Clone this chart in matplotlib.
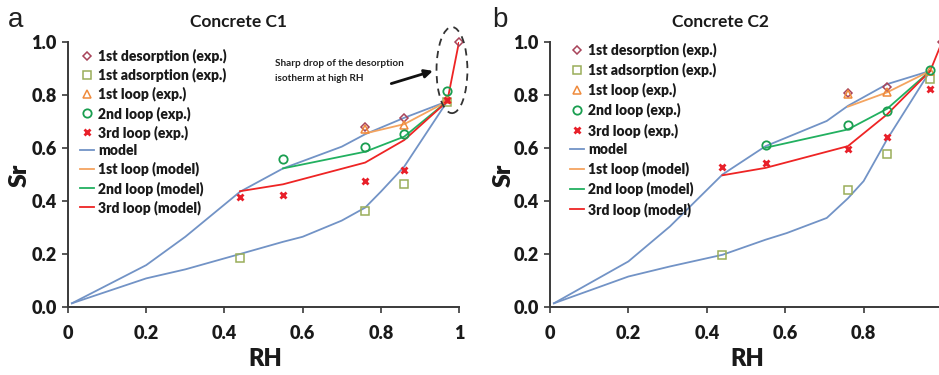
import matplotlib
matplotlib.use("Agg")
import matplotlib.pyplot as plt
from matplotlib.patches import Ellipse
from matplotlib.lines import Line2D

FAM = ['Lato', 'DejaVu Sans']
plt.rcParams['font.family'] = FAM

# ---------------- data: Concrete C1 ----------------
rh_des_model_c1 = [0.01, 0.2, 0.3, 0.44, 0.55, 0.7, 0.76, 0.86, 0.97]
sr_des_model_c1 = [0.014, 0.158, 0.265, 0.435, 0.523, 0.605, 0.652, 0.714, 0.776]
rh_ads_model_c1 = [0.01, 0.2, 0.3, 0.44, 0.55, 0.6, 0.7, 0.76, 0.8, 0.86, 0.97]
sr_ads_model_c1 = [0.014, 0.108, 0.142, 0.2, 0.246, 0.265, 0.326, 0.375, 0.435, 0.53, 0.776]
rh_loop1_model_c1 = [0.76, 0.86, 0.97]
sr_loop1_model_c1 = [0.655, 0.69, 0.776]
rh_loop2_model_c1 = [0.55, 0.76, 0.86, 0.97]
sr_loop2_model_c1 = [0.523, 0.586, 0.643, 0.776]
rh_loop3_model_c1 = [0.44, 0.55, 0.76, 0.86, 0.97, 1.0]
sr_loop3_model_c1 = [0.437, 0.463, 0.545, 0.63, 0.776, 1.0]

rh_des_exp_c1 = [0.76, 0.86, 1.0]
sr_des_exp_c1 = [0.678, 0.714, 1.0]
rh_ads_exp_c1 = [0.44, 0.76, 0.86, 0.97]
sr_ads_exp_c1 = [0.185, 0.363, 0.464, 0.775]
rh_loop1_exp_c1 = [0.76, 0.86, 0.97]
sr_loop1_exp_c1 = [0.672, 0.687, 0.785]
rh_loop2_exp_c1 = [0.55, 0.76, 0.86, 0.97]
sr_loop2_exp_c1 = [0.558, 0.603, 0.652, 0.815]
rh_loop3_exp_c1 = [0.44, 0.55, 0.76, 0.86, 0.97]
sr_loop3_exp_c1 = [0.416, 0.423, 0.477, 0.517, 0.78]

# ---------------- data: Concrete C2 ----------------
rh_des_model_c2 = [0.01, 0.2, 0.306, 0.44, 0.55, 0.706, 0.76, 0.86, 0.97]
sr_des_model_c2 = [0.014, 0.172, 0.304, 0.5, 0.607, 0.702, 0.759, 0.841, 0.891]
rh_ads_model_c2 = [0.01, 0.2, 0.306, 0.44, 0.55, 0.604, 0.706, 0.76, 0.8, 0.86, 0.97]
sr_ads_model_c2 = [0.014, 0.115, 0.153, 0.197, 0.254, 0.279, 0.336, 0.41, 0.475, 0.633, 0.891]
rh_loop1_model_c2 = [0.76, 0.86, 0.97]
sr_loop1_model_c2 = [0.756, 0.81, 0.891]
rh_loop2_model_c2 = [0.55, 0.76, 0.86, 0.97]
sr_loop2_model_c2 = [0.601, 0.67, 0.748, 0.891]
rh_loop3_model_c2 = [0.44, 0.55, 0.76, 0.86, 0.97, 1.0]
sr_loop3_model_c2 = [0.497, 0.525, 0.607, 0.727, 0.891, 1.0]

rh_des_exp_c2 = [0.76, 0.86, 1.0]
sr_des_exp_c2 = [0.806, 0.832, 1.0]
rh_ads_exp_c2 = [0.44, 0.76, 0.86, 0.97]
sr_ads_exp_c2 = [0.197, 0.441, 0.576, 0.86]
rh_loop1_exp_c2 = [0.76, 0.86, 0.97]
sr_loop1_exp_c2 = [0.803, 0.813, 0.89]
rh_loop2_exp_c2 = [0.55, 0.76, 0.86, 0.97]
sr_loop2_exp_c2 = [0.61, 0.687, 0.74, 0.895]
rh_loop3_exp_c2 = [0.44, 0.55, 0.76, 0.86, 0.97]
sr_loop3_exp_c2 = [0.528, 0.542, 0.595, 0.641, 0.822]

legend_labels = ['1st desorption (exp.)', '1st adsorption (exp.)', '1st loop (exp.)',
                 '2nd loop (exp.)', '3rd loop (exp.)', 'model', '1st loop (model)',
                 '2nd loop (model)', '3rd loop (model)']
yticks = [0.0, 0.2, 0.4, 0.6, 0.8, 1.0]
ytick_labels = ['0.0', '0.2', '0.4', '0.6', '0.8', '1.0']
xticks = [0, 0.2, 0.4, 0.6, 0.8, 1.0]
xtick_labels = ['0', '0.2', '0.4', '0.6', '0.8', '1']

# ---------------- styles ----------------
C_BLUE = '#7293c6'
C_ORANGE = '#f4a460'
C_GREEN = '#22b060'
C_RED = '#ee2424'
M_DES = '#a8445a'
M_ADS = '#9aae5a'
M_TRI = '#ef8a3c'
M_CIR = '#1a9e50'
M_X = '#e8202a'

fig = plt.figure(figsize=(9.39, 3.75), dpi=100)
W, H = 939.0, 375.0


def panel(left_px, right_px, xmax, d, title, title_x, letter, letter_x, sr_x, rh_x, leg_xy, lspace):
    ax = fig.add_axes([left_px / W, (H - 307) / H, (right_px - left_px) / W, 265 / H])
    lw = 1.3
    ax.plot(d['rh_des_m'], d['sr_des_m'], color=C_BLUE, lw=lw, zorder=2)
    ax.plot(d['rh_ads_m'], d['sr_ads_m'], color=C_BLUE, lw=lw, zorder=2)
    ax.plot(d['rh_l1_m'], d['sr_l1_m'], color=C_ORANGE, lw=lw, zorder=3)
    ax.plot(d['rh_l2_m'], d['sr_l2_m'], color=C_GREEN, lw=lw, zorder=3)
    ax.plot(d['rh_l3_m'], d['sr_l3_m'], color=C_RED, lw=lw, zorder=3)
    ms = 6
    ax.plot(d['rh_des_e'], d['sr_des_e'], ls='none', marker='D', ms=4.5, mfc='none', mec=M_DES, mew=1.1, zorder=4, clip_on=False)
    ax.plot(d['rh_ads_e'], d['sr_ads_e'], ls='none', marker='s', ms=ms, mfc='none', mec=M_ADS, mew=1.1, zorder=4)
    ax.plot(d['rh_l1_e'], d['sr_l1_e'], ls='none', marker='^', ms=ms, mfc='none', mec=M_TRI, mew=1.1, zorder=4)
    ax.plot(d['rh_l2_e'], d['sr_l2_e'], ls='none', marker='o', ms=ms, mfc='none', mec=M_CIR, mew=1.3, zorder=4)
    ax.plot(d['rh_l3_e'], d['sr_l3_e'], ls='none', marker='x', ms=5, mec=M_X, mew=2.0, zorder=5)

    ax.set_xlim(0, xmax)
    ax.set_ylim(0, 1.0)
    ax.set_yticks(yticks)
    ax.set_yticklabels(ytick_labels)
    xt = [t for t in xticks if t <= xmax + 1e-9]
    ax.set_xticks(xt)
    ax.set_xticklabels(xtick_labels[:len(xt)])
    for s in ['top', 'right']:
        ax.spines[s].set_visible(False)
    for s in ['left', 'bottom']:
        ax.spines[s].set_color('#3a3a3a')
        ax.spines[s].set_linewidth(1.4)
    ax.tick_params(direction='out', length=4, width=1.2, colors='#3a3a3a',
                   labelsize=13, labelcolor='#1a1a1a')
    for lab in ax.get_xticklabels() + ax.get_yticklabels():
        lab.set_fontweight('heavy')
    ax.tick_params(axis='x', pad=9)
    ax.tick_params(axis='y', pad=4)

    handles = [
        Line2D([], [], ls='none', marker='D', ms=4.5, mfc='none', mec=M_DES, mew=1.1),
        Line2D([], [], ls='none', marker='s', ms=6, mfc='none', mec=M_ADS, mew=1.1),
        Line2D([], [], ls='none', marker='^', ms=6, mfc='none', mec=M_TRI, mew=1.1),
        Line2D([], [], ls='none', marker='o', ms=6, mfc='none', mec=M_CIR, mew=1.3),
        Line2D([], [], ls='none', marker='x', ms=5, mec=M_X, mew=2.0),
        Line2D([], [], color=C_BLUE, lw=1.3),
        Line2D([], [], color=C_ORANGE, lw=1.3),
        Line2D([], [], color=C_GREEN, lw=1.3),
        Line2D([], [], color=C_RED, lw=1.3),
    ]
    leg = ax.legend(handles, legend_labels, loc='upper left',
                    bbox_to_anchor=(leg_xy[0] / W, 1 - leg_xy[1] / H),
                    bbox_transform=fig.transFigure, frameon=False,
                    borderpad=0, borderaxespad=0, handlelength=1.0,
                    handletextpad=0.3, labelspacing=lspace,
                    prop={'family': FAM, 'weight': 'heavy', 'size': 10})
    for t in leg.get_texts():
        t.set_color('#1a1a1a')

    fig.text(title_x / W, 1 - 22 / H, title, ha='center', va='center',
             fontsize=12.5, fontweight='bold', color='#1a1a1a')
    fig.text(letter_x / W, 1 - 20 / H, letter, ha='center', va='center',
             fontsize=20, color='#222222', family=['Liberation Sans', 'DejaVu Sans'])
    fig.text(sr_x / W, 1 - 175 / H, 'Sr', ha='center', va='center', rotation=90,
             fontsize=18, fontweight='heavy', color='#1a1a1a')
    fig.text(rh_x / W, 1 - 359 / H, 'RH', ha='center', va='center',
             fontsize=17, fontweight='heavy', color='#1a1a1a')
    return ax


d1 = dict(rh_des_m=rh_des_model_c1, sr_des_m=sr_des_model_c1,
          rh_ads_m=rh_ads_model_c1, sr_ads_m=sr_ads_model_c1,
          rh_l1_m=rh_loop1_model_c1, sr_l1_m=sr_loop1_model_c1,
          rh_l2_m=rh_loop2_model_c1, sr_l2_m=sr_loop2_model_c1,
          rh_l3_m=rh_loop3_model_c1, sr_l3_m=sr_loop3_model_c1,
          rh_des_e=rh_des_exp_c1, sr_des_e=sr_des_exp_c1,
          rh_ads_e=rh_ads_exp_c1, sr_ads_e=sr_ads_exp_c1,
          rh_l1_e=rh_loop1_exp_c1, sr_l1_e=sr_loop1_exp_c1,
          rh_l2_e=rh_loop2_exp_c1, sr_l2_e=sr_loop2_exp_c1,
          rh_l3_e=rh_loop3_exp_c1, sr_l3_e=sr_loop3_exp_c1)
d2 = dict(rh_des_m=rh_des_model_c2, sr_des_m=sr_des_model_c2,
          rh_ads_m=rh_ads_model_c2, sr_ads_m=sr_ads_model_c2,
          rh_l1_m=rh_loop1_model_c2, sr_l1_m=sr_loop1_model_c2,
          rh_l2_m=rh_loop2_model_c2, sr_l2_m=sr_loop2_model_c2,
          rh_l3_m=rh_loop3_model_c2, sr_l3_m=sr_loop3_model_c2,
          rh_des_e=rh_des_exp_c2, sr_des_e=sr_des_exp_c2,
          rh_ads_e=rh_ads_exp_c2, sr_ads_e=sr_ads_exp_c2,
          rh_l1_e=rh_loop1_exp_c2, sr_l1_e=sr_loop1_exp_c2,
          rh_l2_e=rh_loop2_exp_c2, sr_l2_e=sr_loop2_exp_c2,
          rh_l3_e=rh_loop3_exp_c2, sr_l3_e=sr_loop3_exp_c2)

ax1 = panel(68, 459, 1.0, d1, 'Concrete C1', 239, 'a', 16, 20, 265, (80, 48.5), 0.33)
ax2 = panel(550, 939, 389 / 392, d2, 'Concrete C2', 720, 'b', 500, 504, 747, (570, 42.5), 0.40)

# annotation on panel a
ell = Ellipse((0.982, 0.894), 0.079, 0.325, fill=False, ls=(0, (4, 3)),
              lw=1.3, ec='#333333', clip_on=False, zorder=6)
ax1.add_patch(ell)
ax1.annotate('', xy=(0.94, 0.894), xytext=(0.82, 0.84),
             arrowprops=dict(arrowstyle='-|>', color='#111111', lw=2.0,
                             mutation_scale=12), annotation_clip=False)
fig.text(275 / W, 1 - 71 / H, 'Sharp drop of the desorption\nisotherm at high RH',
         ha='left', va='center', fontsize=7.2, fontweight='bold', color='#222222',
         linespacing=1.75)

fig.savefig('out.png', dpi=100)
